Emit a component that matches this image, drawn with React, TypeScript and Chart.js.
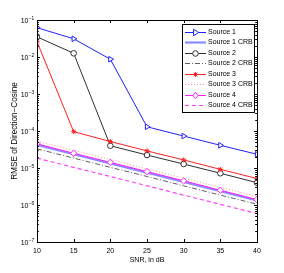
import React, { useEffect, useRef } from 'react';
import { Chart, registerables } from 'chart.js';

Chart.register(...registerables);

const snr = [10, 15, 20, 25, 30, 35, 40];
const source1 = [0.062, 0.031, 0.0087, 1.3e-4, 7.3e-5, 4.1e-5, 2.35e-5];
const source1Crb = [4.2e-5, 2.36e-5, 1.33e-5, 7.5e-6, 4.2e-6, 2.36e-6, 1.33e-6];
const source2 = [0.035, 0.0126, 4.0e-5, 2.24e-5, 1.28e-5, 7.2e-6, 4.0e-6];
const source2Crb = [3.3e-5, 1.85e-5, 1.04e-5, 5.9e-6, 3.3e-6, 1.85e-6, 1.05e-6];
const source3 = [0.026, 9.6e-5, 5.2e-5, 2.9e-5, 1.65e-5, 9.2e-6, 5.2e-6];
const source3Crb = [5.3e-5, 3.0e-5, 1.7e-5, 9.4e-6, 5.3e-6, 3.0e-6, 1.7e-6];
const source4 = [4.5e-5, 2.5e-5, 1.42e-5, 8.0e-6, 4.5e-6, 2.5e-6, 1.4e-6];
const source4Crb = [1.85e-5, 1.04e-5, 5.9e-6, 3.3e-6, 1.85e-6, 1.04e-6, 5.9e-7];

const seriesNames = [
  'Source 1', 'Source 1 CRB', 'Source 2', 'Source 2 CRB',
  'Source 3', 'Source 3 CRB', 'Source 4', 'Source 4 CRB',
];
const yTickValues = [1e-7, 1e-6, 1e-5, 1e-4, 1e-3, 1e-2, 1e-1];
const yTickBase = '10';
const yTickExponents = ['−7', '−6', '−5', '−4', '−3', '−2', '−1'];
const xTitle = 'SNR, in dB';
const yTitle = 'RMSE of Direction−Cosine';

const FONT = 'Liberation Sans, Arial, Helvetica, sans-serif';

type Marker = 'tri' | 'circle' | 'star' | 'diamond' | null;

function drawMarker(ctx: CanvasRenderingContext2D, m: Marker, x: number, y: number, r: number, color: string) {
  if (!m) return;
  ctx.save();
  ctx.strokeStyle = color;
  ctx.fillStyle = color;
  ctx.lineWidth = 1;
  ctx.setLineDash([]);
  ctx.beginPath();
  if (m === 'tri') {
    ctx.moveTo(x + r, y);
    ctx.lineTo(x - r * 0.6, y - r);
    ctx.lineTo(x - r * 0.6, y + r);
    ctx.closePath();
    ctx.fillStyle = '#fff';
    ctx.fill();
    ctx.stroke();
  } else if (m === 'circle') {
    ctx.arc(x, y, r, 0, Math.PI * 2);
    ctx.fillStyle = '#fff';
    ctx.fill();
    ctx.stroke();
  } else if (m === 'diamond') {
    ctx.moveTo(x, y - r);
    ctx.lineTo(x + r * 0.8, y);
    ctx.lineTo(x, y + r);
    ctx.lineTo(x - r * 0.8, y);
    ctx.closePath();
    ctx.fillStyle = '#fff';
    ctx.fill();
    ctx.stroke();
  } else if (m === 'star') {
    for (let k = 0; k < 4; k++) {
      const a = (k * Math.PI) / 4;
      ctx.moveTo(x - Math.cos(a) * r, y - Math.sin(a) * r);
      ctx.lineTo(x + Math.cos(a) * r, y + Math.sin(a) * r);
    }
    ctx.stroke();
  }
  ctx.restore();
}

export default function App() {
  const ref = useRef<HTMLCanvasElement>(null);

  useEffect(() => {
    const canvas = ref.current;
    if (!canvas) return;
    const pts = (arr: number[]) => snr.map((x, i) => ({ x, y: arr[i] }));

    const styles = [
      { color: '#2020ff', width: 1, dash: [] as number[], marker: 'tri' as Marker, ps: 'triangle', rot: 90, r: 3.2 },
      { color: '#8c8cff', width: 2.2, dash: [] as number[], marker: null as Marker, ps: 'circle', rot: 0, r: 0 },
      { color: '#303030', width: 1, dash: [] as number[], marker: 'circle' as Marker, ps: 'circle', rot: 0, r: 2.8 },
      { color: '#606060', width: 1, dash: [5, 2, 1, 2], marker: null as Marker, ps: 'circle', rot: 0, r: 0 },
      { color: '#ff2020', width: 1, dash: [] as number[], marker: 'star' as Marker, ps: 'star', rot: 0, r: 2.5 },
      { color: '#ff9090', width: 1, dash: [1, 2], marker: null as Marker, ps: 'circle', rot: 0, r: 0 },
      { color: '#ff20ff', width: 1, dash: [] as number[], marker: 'diamond' as Marker, ps: 'rectRot', rot: 0, r: 3.2 },
      { color: '#ff40ff', width: 1.2, dash: [4, 3], marker: null as Marker, ps: 'circle', rot: 0, r: 0 },
    ];
    const series = [source1, source1Crb, source2, source2Crb, source3, source3Crb, source4, source4Crb];

    const datasets = series.map((arr, i) => ({
      label: seriesNames[i],
      data: pts(arr),
      borderColor: styles[i].color,
      borderWidth: styles[i].width,
      borderDash: styles[i].dash,
      backgroundColor: '#ffffff',
      pointStyle: styles[i].ps as any,
      pointRotation: styles[i].rot,
      pointRadius: styles[i].r,
      pointBorderColor: styles[i].color,
      pointBackgroundColor: styles[i].ps === 'star' ? styles[i].color : '#ffffff',
      pointBorderWidth: 1,
      fill: false,
      tension: 0,
      order: 20 - i,
    }));

    const framePlugin = {
      id: 'frame',
      afterDraw(chart: any) {
        const { ctx, chartArea: a, scales } = chart;
        const xs = scales.x;
        const ys = scales.y;
        ctx.save();
        ctx.strokeStyle = '#000';
        ctx.lineWidth = 1;
        ctx.setLineDash([]);
        ctx.strokeRect(Math.round(a.left) + 0.5, Math.round(a.top) + 0.5, Math.round(a.right - a.left), Math.round(a.bottom - a.top));
        ctx.beginPath();
        for (const v of snr) {
          const px = Math.round(xs.getPixelForValue(v)) + 0.5;
          ctx.moveTo(px, a.bottom);
          ctx.lineTo(px, a.bottom - 3);
          ctx.moveTo(px, a.top);
          ctx.lineTo(px, a.top + 3);
        }
        for (let e = -7; e <= -1; e++) {
          for (let m = 1; m <= 9; m++) {
            const v = m * Math.pow(10, e);
            if (e === -1 && m > 1) continue;
            const py = Math.round(ys.getPixelForValue(v)) + 0.5;
            const len = m === 1 ? 3 : 1.8;
            ctx.moveTo(a.left, py);
            ctx.lineTo(a.left + len, py);
            ctx.moveTo(a.right, py);
            ctx.lineTo(a.right - len, py);
          }
        }
        ctx.stroke();

        // y tick labels with superscript exponents
        ctx.fillStyle = '#000';
        ctx.textBaseline = 'middle';
        yTickValues.forEach((v, i) => {
          const py = ys.getPixelForValue(v);
          ctx.font = `7px ${FONT}`;
          ctx.textAlign = 'right';
          ctx.fillText(yTickBase, 28.5, py + 1.5);
          ctx.font = `4.8px ${FONT}`;
          ctx.textAlign = 'left';
          ctx.fillText(yTickExponents[i], 28.8, py - 1.8);
        });

        // legend
        const lx = 182, ly = 24, lw = 72, lh = 88;
        ctx.fillStyle = '#fff';
        ctx.fillRect(lx, ly, lw, lh);
        ctx.strokeStyle = '#000';
        ctx.strokeRect(lx + 0.5, ly + 0.5, lw, lh);
        ctx.font = `7px ${FONT}`;
        ctx.textBaseline = 'middle';
        ctx.textAlign = 'left';
        for (let i = 0; i < seriesNames.length; i++) {
          const cy = ly + 7.5 + i * 10.5;
          const s = styles[i];
          ctx.save();
          ctx.strokeStyle = s.color;
          ctx.lineWidth = s.width;
          ctx.setLineDash(s.dash);
          ctx.beginPath();
          ctx.moveTo(185, Math.round(cy) + 0.5);
          ctx.lineTo(206, Math.round(cy) + 0.5);
          ctx.stroke();
          ctx.restore();
          drawMarker(ctx, s.marker, 195.5, Math.round(cy) + 0.5, s.r, s.color);
          ctx.fillStyle = '#000';
          ctx.fillText(seriesNames[i], 208, cy + 0.5);
        }
        ctx.restore();
      },
    };

    const tickFont = { family: FONT, size: 7 };
    const chart = new Chart(canvas, {
      type: 'line',
      data: { datasets: datasets as any },
      options: {
        responsive: false,
        animation: false,
        devicePixelRatio: 1,
        layout: { padding: { left: 0, right: 27, top: 20, bottom: 0 } },
        plugins: { legend: { display: false }, tooltip: { enabled: false } },
        scales: {
          x: {
            type: 'linear',
            min: 10,
            max: 40,
            ticks: { stepSize: 5, font: tickFont, color: '#000', padding: 5, maxRotation: 0 },
            grid: { display: false, drawTicks: false },
            border: { display: false },
            title: { display: true, text: xTitle, font: tickFont, color: '#000', padding: { top: 0, bottom: 9 } },
            afterFit: (s: any) => { s.height = 31; },
          },
          y: {
            type: 'logarithmic',
            min: 1e-7,
            max: 1e-1,
            afterBuildTicks: (s: any) => { s.ticks = yTickValues.map((v) => ({ value: v })); },
            ticks: { display: false },
            grid: { display: false, drawTicks: false },
            border: { display: false },
            title: { display: true, text: yTitle, font: { family: FONT, size: 8.2 }, color: '#000', padding: { top: 10, bottom: 0 } },
            afterFit: (s: any) => { s.width = 37; },
          },
        },
      },
      plugins: [framePlugin],
    });
    return () => chart.destroy();
  }, []);

  return (
    <div style={{ position: 'absolute', left: 0, top: 0, width: 284, height: 273, background: '#fff' }}>
      <canvas ref={ref} width={284} height={273} style={{ display: 'block', width: 284, height: 273 }} />
    </div>
  );
}
